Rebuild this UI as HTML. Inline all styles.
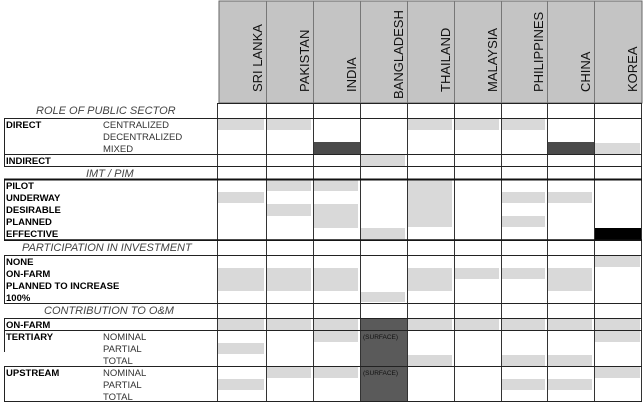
<!DOCTYPE html>
<html><head><meta charset="utf-8"><style>
html,body{margin:0;padding:0;background:#fff;}
svg{display:block;}
text{font-family:"Liberation Sans",sans-serif;}
.b{font-weight:bold;font-size:9.5px;fill:#000;}
.s{font-size:9.5px;fill:#333;}
.h{font-style:italic;font-size:11px;fill:#444;}
.c{font-size:13px;fill:#111;}
</style></head><body>
<svg width="644" height="404" viewBox="0 0 644 404" xmlns="http://www.w3.org/2000/svg">
<rect width="644" height="404" fill="#fff"/>
<rect x="219" y="1" width="423" height="102" fill="#c4c4c4" stroke="#666" stroke-width="1"/>
<g stroke="#777" stroke-width="1">
<line x1="266.5" y1="1" x2="266.5" y2="103"/><line x1="313.5" y1="1" x2="313.5" y2="103"/>
<line x1="360.5" y1="1" x2="360.5" y2="103"/><line x1="407.5" y1="1" x2="407.5" y2="103"/>
<line x1="454.5" y1="1" x2="454.5" y2="103"/><line x1="501.5" y1="1" x2="501.5" y2="103"/>
<line x1="547.5" y1="1" x2="547.5" y2="103"/><line x1="594.5" y1="1" x2="594.5" y2="103"/>
</g>
<g class="c">
<text transform="translate(262,92) rotate(-90)">SRI LANKA</text>
<text transform="translate(309,92) rotate(-90)">PAKISTAN</text>
<text transform="translate(356,92) rotate(-90)">INDIA</text>
<text transform="translate(403,99) rotate(-90)">BANGLADESH</text>
<text transform="translate(450,92) rotate(-90)">THAILAND</text>
<text transform="translate(497,92) rotate(-90)">MALAYSIA</text>
<text transform="translate(543,92) rotate(-90)">PHILIPPINES</text>
<text transform="translate(590,92) rotate(-90)">CHINA</text>
<text transform="translate(637,92) rotate(-90)">KOREA</text>
</g>
<g fill="#d9d9d9">
<rect x="218" y="119" width="46" height="11"/><rect x="267" y="119" width="44" height="11"/>
<rect x="408" y="119" width="44" height="11"/><rect x="455" y="119" width="44" height="11"/><rect x="502" y="119" width="43" height="11"/>
<rect x="595" y="143" width="45" height="11"/>
<rect x="361" y="155" width="44" height="11"/>
<rect x="267" y="180" width="44" height="11"/><rect x="314" y="180" width="44" height="11"/>
<rect x="408" y="180" width="44" height="47"/>
<rect x="218" y="192" width="46" height="11"/><rect x="502" y="192" width="43" height="11"/><rect x="548" y="192" width="44" height="11"/>
<rect x="267" y="204" width="44" height="12"/><rect x="314" y="204" width="44" height="24"/>
<rect x="502" y="216" width="43" height="11"/>
<rect x="361" y="228" width="44" height="11"/>
<rect x="595" y="256" width="45" height="11"/>
<rect x="218" y="268" width="46" height="23"/><rect x="267" y="268" width="44" height="23"/><rect x="314" y="268" width="44" height="23"/>
<rect x="408" y="268" width="44" height="23"/><rect x="548" y="268" width="44" height="23"/>
<rect x="455" y="268" width="44" height="11"/><rect x="502" y="268" width="43" height="11"/>
<rect x="361" y="292" width="44" height="10"/>
<rect x="218" y="319" width="46" height="11"/><rect x="267" y="319" width="44" height="11"/><rect x="314" y="319" width="44" height="11"/>
<rect x="408" y="319" width="44" height="11"/><rect x="455" y="319" width="44" height="11"/><rect x="502" y="319" width="43" height="11"/>
<rect x="548" y="319" width="44" height="11"/><rect x="595" y="319" width="45" height="11"/>
<rect x="314" y="331" width="44" height="11"/><rect x="595" y="331" width="45" height="11"/>
<rect x="218" y="343" width="46" height="11"/>
<rect x="408" y="355" width="44" height="11"/><rect x="502" y="355" width="43" height="11"/><rect x="548" y="355" width="44" height="11"/>
<rect x="267" y="367" width="44" height="11"/><rect x="314" y="367" width="44" height="11"/><rect x="595" y="367" width="45" height="11"/>
<rect x="218" y="379" width="46" height="11"/><rect x="502" y="379" width="43" height="11"/><rect x="548" y="379" width="44" height="11"/>
</g>
<g fill="#4a4a4a">
<rect x="314" y="142" width="46" height="12"/><rect x="548" y="142" width="46" height="12"/>
<rect x="361" y="318" width="46" height="84" fill="#5a5a5a"/>
</g>
<rect x="595" y="228" width="47" height="12" fill="#000"/>
<text x="363" y="339" font-size="6.5" fill="#111">(SURFACE)</text>
<text x="363" y="375" font-size="6.5" fill="#111">(SURFACE)</text>
<g stroke="#333" stroke-width="1">
<line x1="217.5" y1="103" x2="217.5" y2="402"/><line x1="266.5" y1="103" x2="266.5" y2="402"/>
<line x1="313.5" y1="103" x2="313.5" y2="402"/><line x1="360.5" y1="103" x2="360.5" y2="402"/>
<line x1="407.5" y1="103" x2="407.5" y2="402"/><line x1="454.5" y1="103" x2="454.5" y2="402"/>
<line x1="501.5" y1="103" x2="501.5" y2="402"/><line x1="547.5" y1="103" x2="547.5" y2="402"/>
<line x1="594.5" y1="103" x2="594.5" y2="402"/><line x1="641.5" y1="103" x2="641.5" y2="402"/>
</g>
<g stroke="#222" stroke-width="1">
<line x1="217" y1="103.5" x2="642" y2="103.5"/>
<line x1="4" y1="118.5" x2="642" y2="118.5"/>
<line x1="4" y1="154.5" x2="642" y2="154.5"/>
<line x1="4" y1="166.5" x2="642" y2="166.5"/>
<line x1="4" y1="240.5" x2="642" y2="240.5"/>
<line x1="4" y1="255.5" x2="642" y2="255.5"/>
<line x1="4" y1="303.5" x2="642" y2="303.5"/>
<line x1="4" y1="318.5" x2="642" y2="318.5"/>
<line x1="4" y1="330.5" x2="642" y2="330.5"/>
<line x1="4" y1="366.5" x2="642" y2="366.5"/>
<line x1="4" y1="401.5" x2="642" y2="401.5"/>
<line x1="4.5" y1="118" x2="4.5" y2="166"/>
<line x1="4.5" y1="179" x2="4.5" y2="240"/>
<line x1="4.5" y1="255" x2="4.5" y2="303"/>
<line x1="4.5" y1="318" x2="4.5" y2="352"/>
<line x1="4.5" y1="366" x2="4.5" y2="402"/>
</g>
<line x1="4" y1="179.5" x2="642" y2="179.5" stroke="#111" stroke-width="2"/>
<line x1="4" y1="240" x2="642" y2="240" stroke="#111" stroke-width="1.5"/>
<text class="h" x="36" y="114">ROLE OF PUBLIC SECTOR</text>
<text class="b" x="6" y="128">DIRECT</text>
<text class="s" x="103" y="128">CENTRALIZED</text>
<text class="s" x="103" y="140">DECENTRALIZED</text>
<text class="s" x="103" y="152">MIXED</text>
<text class="b" x="6" y="164">INDIRECT</text>
<text class="h" x="86" y="177">IMT / PIM</text>
<text class="b" x="6" y="189">PILOT</text>
<text class="b" x="6" y="201">UNDERWAY</text>
<text class="b" x="6" y="213">DESIRABLE</text>
<text class="b" x="6" y="225">PLANNED</text>
<text class="b" x="6" y="237">EFFECTIVE</text>
<text class="h" x="22" y="251">PARTICIPATION IN INVESTMENT</text>
<text class="b" x="6" y="265">NONE</text>
<text class="b" x="6" y="277">ON-FARM</text>
<text class="b" x="6" y="289">PLANNED TO INCREASE</text>
<text class="b" x="6" y="301">100%</text>
<text class="h" x="44" y="314">CONTRIBUTION TO O&amp;M</text>
<text class="b" x="6" y="328">ON-FARM</text>
<text class="b" x="6" y="340">TERTIARY</text>
<text class="s" x="103" y="340">NOMINAL</text>
<text class="s" x="103" y="352">PARTIAL</text>
<text class="s" x="103" y="364">TOTAL</text>
<text class="b" x="6" y="376">UPSTREAM</text>
<text class="s" x="103" y="376">NOMINAL</text>
<text class="s" x="103" y="388">PARTIAL</text>
<text class="s" x="103" y="400">TOTAL</text>
</svg>
</body></html>
